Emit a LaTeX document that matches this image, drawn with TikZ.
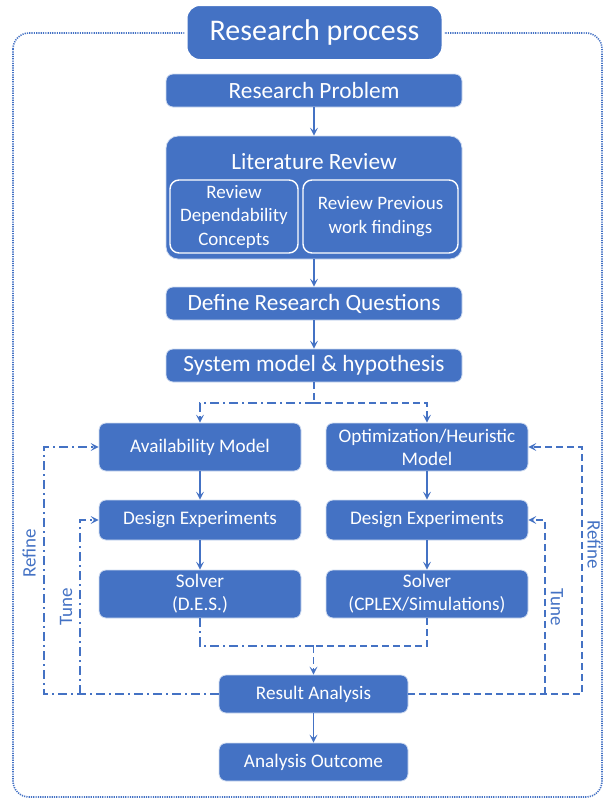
\documentclass[tikz,border=0pt]{standalone}
\usepackage{fontspec}
\setmainfont{Carlito}
\usetikzlibrary{arrows.meta}
\definecolor{myblue}{HTML}{4472C4}
\tikzset{
  box/.style={rounded corners=7pt, fill=myblue, draw=white!75!myblue, line width=0.8pt,
    text=white, align=center, inner sep=0pt},
  inner/.style={rounded corners=9pt, draw=white, line width=1.4pt, fill=myblue,
    text=white, align=center, inner sep=0pt, font=\fontsize{19}{23.5}\selectfont},
  big/.style={box, minimum width=296pt, minimum height=33pt, font=\fontsize{23.3}{27}\selectfont},
  mid/.style={box, minimum width=202pt, font=\fontsize{19.2}{23}\selectfont},
  low/.style={box, minimum width=189pt, minimum height=38pt, font=\fontsize{19.2}{23}\selectfont},
  conn/.style={myblue, line width=1.4pt},
  tip/.style={-{Stealth[length=8pt,width=8pt,inset=3.5pt]}},
  dashdot/.style={conn, dash pattern=on 9pt off 4pt on 2pt off 4pt},
  dashline/.style={conn, dash pattern=on 7pt off 4pt},
  side/.style={text=myblue, font=\fontsize{19}{23}\selectfont},
}
\begin{document}
\begin{tikzpicture}[x=1pt,y=-1pt]
\useasboundingbox (0,0) rectangle (604,798);

% outer frame
\draw[myblue, line width=1.6pt, dash pattern=on 1.2pt off 1.1pt, rounded corners=16pt]
  (13,33) rectangle (602,797);

% title
\node[box, draw=white, line width=3pt, rounded corners=14pt, minimum width=257pt, minimum height=56pt,
  font=\fontsize{30}{36}\selectfont] (title) at (314.5,32.5) {Research process};

% main column
\node[big] (prob) at (314,90.5) {Research Problem};
\node[box, rounded corners=12pt, minimum width=296pt, minimum height=123pt] (lit) at (314,197.5) {};
\node[text=white, font=\fontsize{23.3}{27}\selectfont] (littitle) at (314,162) {Literature Review};
\node[inner, minimum width=128pt, minimum height=73pt] (revdep) at (234,216.5)
  {Review\\Dependability\\Concepts};
\node[inner, minimum width=155pt, minimum height=73pt] (revprev) at (380.5,216.5)
  {Review Previous\\work findings};
\node[big] (drq) at (314,303.5) {Define Research Questions};
\node[big] (sys) at (314,365.5) {System model \& hypothesis};

% two branches
\node[mid, minimum height=48pt] (avail) at (200,447) {Availability Model};
\node[mid, minimum height=48pt] (opt) at (427,447) {Optimization/Heuristic\\Model};
\node[mid, minimum height=40pt] (desL) at (200,520) {Design Experiments};
\node[mid, minimum height=40pt] (desR) at (427,520) {Design Experiments};
\node[mid, minimum height=48pt] (solL) at (200,594) {Solver\\(D.E.S.)};
\node[mid, minimum height=48pt] (solR) at (427,594) {Solver\\(CPLEX/Simulations)};

% results
\node[low] (ra) at (313.5,694) {Result Analysis};
\node[low] (ao) at (313.5,762) {Analysis Outcome};

% helper points
\coordinate (split) at (314,403);
\coordinate (merge) at (313.5,646);
\coordinate (refineL) at (44,447);
\coordinate (tuneL) at (80,520);
\coordinate (refineR) at (582,447);
\coordinate (tuneR) at (545,520);

% solid flow
\draw[conn, tip] (prob) -- (lit);
\draw[conn, tip] (lit) -- (drq);
\draw[conn, tip] (drq) -- (sys);
\draw[conn, tip] (avail) -- (desL);
\draw[conn, tip] (desL) -- (solL);
\draw[conn, tip] (opt) -- (desR);
\draw[conn, tip] (desR) -- (solR);
\draw[conn, tip] (ra) -- (ao);

% split into the two models
\draw[dashline] (sys.south) -- (split);
\draw[dashdot, tip] (split) -| (avail.north);
\draw[dashline, tip] (split) -| (opt.north);

% merge of solver outputs
\draw[dashdot] (solL.south) |- (merge);
\draw[dashline] (solR.south) |- (merge);
\draw[dashline, tip] (merge) -- (ra.north);

% feedback loops, left
\draw[dashdot, tip] (ra.west) -| (refineL) -- (avail.west);
\draw[dashdot, tip] (tuneL |- ra.west) -- (tuneL) -- (desL.west);
\node[side, rotate=90] (refLlab) at (29,553) {Refine};
\node[side, rotate=90] (tuneLlab) at (66,607) {Tune};

% feedback loops, right
\draw[dashline, tip] (ra.east) -| (refineR) -- (opt.east);
\draw[dashline, tip] (tuneR |- ra.east) -- (tuneR) -- (desR.east);
\node[side, rotate=-90] (refRlab) at (594,545) {Refine};
\node[side, rotate=-90] (tuneRlab) at (557,607) {Tune};
\end{tikzpicture}
\end{document}
